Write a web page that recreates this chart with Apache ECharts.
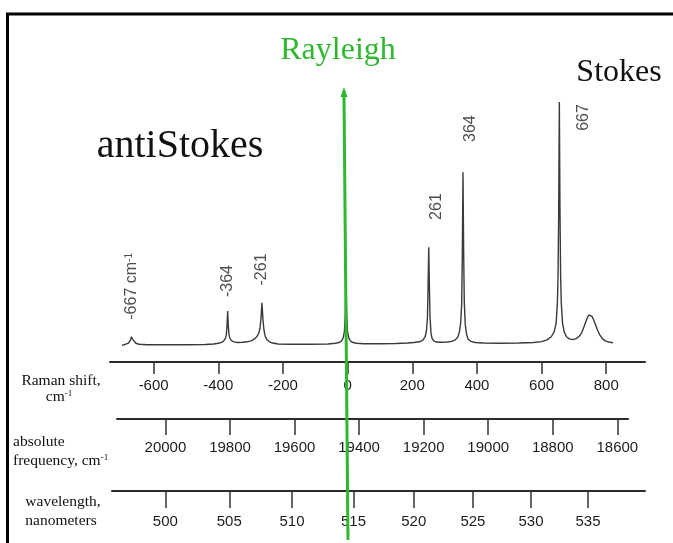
<!DOCTYPE html>
<html><head><meta charset="utf-8">
<script src="https://cdn.jsdelivr.net/npm/echarts@6/dist/echarts.min.js"></script>
<style>html,body{margin:0;padding:0;background:#fff}#c{width:673px;height:543px}</style>
</head><body><div id="c"></div>
<script>
// ---- data ----
const ramanTicks = [-600, -400, -200, 0, 200, 400, 600, 800];
const freqTicks = [20000, 19800, 19600, 19400, 19200, 19000, 18800, 18600];
const wavelengthTicks = [500, 505, 510, 515, 520, 525, 530, 535];

const spectrumShift = [-698,-690,-684,-678,-674,-671,-669,-667,-665,-663,-660,-655,-645,-620,-560,-500,-440,-415,-400,-390,-383,-378,-375,-373,-371,-369,-367,-364,-359,-352,-340,-325,-310,-298,-289,-281,-275,-271,-268,-265,-262,-259,-255,-250,-243,-232,-215,-180,-120,-60,-38,-27,-19,-14,-10,-7,-5,-3,0,4,9,17,28,50,100,150,185,205,222,233,240,244,247,249,251,253,255,258,261,266,275,290,308,322,333,341,346,350,353,355,357,359,361,364,368,373,381,395,420,470,530,575,600,617,630,639,645,649,651,653,655,657,659,661,665,670,677,686,697,707,716,724,731,738,742,746,749,752,756,761,767,773,780,788,797,808,821];
const spectrumIntensity = [-0.4,-0.3,0.0,0.4,0.9,1.8,3.0,3.7,2.8,1.6,0.8,0.3,-0.1,-0.3,-0.3,-0.3,-0.2,0.0,0.3,0.7,1.3,2.3,4.0,7.5,13.6,7.5,4.0,2.3,1.4,0.9,0.6,0.7,0.9,1.3,2.0,3.0,4.4,6.5,10.5,17.0,10.5,6.0,3.3,1.9,1.0,0.4,0.0,-0.1,-0.1,0.0,0.3,0.6,1.2,2.4,5.0,12.0,28.0,12.0,5.0,2.4,1.2,0.6,0.3,0.1,0.1,0.2,0.4,0.6,0.9,1.6,3.0,5.5,11.0,24.0,40.0,24.0,11.0,4.5,2.4,1.3,0.8,0.7,0.8,1.1,1.7,2.9,5.0,9.0,17.0,38.0,71.0,38.0,17.0,8.0,4.0,2.0,1.1,0.6,0.4,0.3,0.4,0.6,1.0,1.7,3.0,5.0,8.5,17.0,28.0,55.0,100.0,55.0,28.0,17.0,8.5,5.0,3.0,2.1,1.8,2.2,3.1,4.6,7.0,9.6,11.0,12.0,12.4,12.2,11.4,10.0,8.0,5.8,3.8,2.2,1.3,0.8,0.5];

const peakLabelText = ['-667 cm{s|-1}', '-364', '-261', '261', '364', '667'];
const peakLabelShift = [-667, -370, -265, 276, 381, 731];
const peakLabelIntensity = [23.8, 26.0, 30.8, 56.8, 89.0, 93.6];

const rayleighShift = -5;

// ---- chart ----
const chart = echarts.init(document.getElementById('c'), null, {renderer: 'canvas'});
const tickFont = {fontSize: 15, fontFamily: 'Liberation Sans', color: '#1c1c1c'};
const axisLineStyle = {color: '#2b2b2b', width: 2};
const tickStyle = {color: '#333', width: 1.5};

const option = {
  animation: false,
  backgroundColor: '#fff',
  grid: [
    {left: 110, right: 28, top: 77.8, height: 284.2},
    {left: 117, right: 45, top: 399, height: 20},
    {left: 112, right: 28, top: 471, height: 20}
  ],
  xAxis: [
    {gridIndex: 0, type: 'value', min: -735, max: 920,
     axisLine: {onZero: false, lineStyle: axisLineStyle},
     axisTick: {customValues: ramanTicks, length: 12, lineStyle: tickStyle},
     axisLabel: Object.assign({customValues: ramanTicks, margin: 16, formatter: v => String(v)}, tickFont),
     splitLine: {show: false}},
    {gridIndex: 1, type: 'value', inverse: true, min: 18567, max: 20150,
     axisLine: {onZero: false, lineStyle: axisLineStyle},
     axisTick: {customValues: freqTicks, length: 16, lineStyle: tickStyle},
     axisLabel: Object.assign({customValues: freqTicks, margin: 21, formatter: v => String(v)}, tickFont),
     splitLine: {show: false}},
    {gridIndex: 2, type: 'value', inverse: true, min: 18515, max: 20165,
     axisLine: {onZero: false, lineStyle: axisLineStyle},
     axisTick: {customValues: wavelengthTicks.map(l => 1e7 / l), length: 17, lineStyle: tickStyle},
     axisLabel: Object.assign({customValues: wavelengthTicks.map(l => 1e7 / l), margin: 23,
       formatter: v => String(Math.round(1e7 / v))}, tickFont),
     splitLine: {show: false}}
  ],
  yAxis: [
    {gridIndex: 0, type: 'value', min: -7.44, max: 110, show: false},
    {gridIndex: 1, type: 'value', min: 0, max: 1, show: false},
    {gridIndex: 2, type: 'value', min: 0, max: 1, show: false}
  ],
  series: [
    {type: 'line', xAxisIndex: 0, yAxisIndex: 0, showSymbol: false, symbol: 'none',
     data: spectrumShift.map((s, i) => [s, spectrumIntensity[i]]),
     lineStyle: {color: '#3a3a3a', width: 1.4}},
    {type: 'scatter', xAxisIndex: 0, yAxisIndex: 0, symbolSize: 1,
     itemStyle: {color: 'rgba(0,0,0,0)'},
     data: peakLabelText.map((t, i) => ({name: t, value: [peakLabelShift[i], peakLabelIntensity[i]]})),
     label: {show: true, position: 'inside', rotate: 90, formatter: p => p.name,
       fontSize: 16, fontFamily: 'Liberation Sans', color: '#222',
       rich: {s: {fontSize: 10, verticalAlign: 'top', fontFamily: 'Liberation Sans', color: '#222'}}}}
  ]
};
chart.setOption(option);

const px = chart.convertToPixel({xAxisIndex: 0}, rayleighShift);
const serif = 'Liberation Serif';
const green = '#2fb82f';
function txt(text, x, y, size, align, color, rich) {
  const st = {text: text, fill: color || '#111', fontSize: size, fontFamily: serif,
    textAlign: align || 'center', textVerticalAlign: 'middle', align: align || 'center', verticalAlign: 'middle'};
  if (rich) st.rich = rich;
  return {type: 'text', x: x, y: y, z: 50, style: st};
}
const sup = {s: {fontSize: 9, fontFamily: serif, verticalAlign: 'top', fill: '#111'}};
chart.setOption({
  graphic: [
    {type: 'rect', z: 60, shape: {x: 7.5, y: 14, width: 700, height: 600},
     style: {fill: 'none', stroke: '#000', lineWidth: 3}},
    txt('Rayleigh', 338, 51, 32, 'center', green),
    txt('Stokes', 619, 73, 32, 'center', '#111'),
    txt('antiStokes', 180, 146, 40, 'center', '#111'),
    txt('Raman shift,', 61, 381, 15.5, 'center'),
    txt('cm{s|-1}', 59, 397, 15.5, 'center', '#111', sup),
    txt('absolute', 13, 442, 15.5, 'left'),
    txt('frequency, cm{s|-1}', 13, 461, 15.5, 'left', '#111', sup),
    txt('wavelength,', 63, 502, 15.5, 'center'),
    txt('nanometers', 61, 521, 15.5, 'center'),
    {type: 'line', z: 70, shape: {x1: px - 2, y1: 94, x2: px + 2, y2: 540},
     style: {stroke: green, lineWidth: 3}},
    {type: 'polygon', z: 70, shape: {points: [[px - 2, 87], [px - 5.5, 97], [px + 1.5, 97]]},
     style: {fill: green}}
  ]
});
</script>
</body></html>
